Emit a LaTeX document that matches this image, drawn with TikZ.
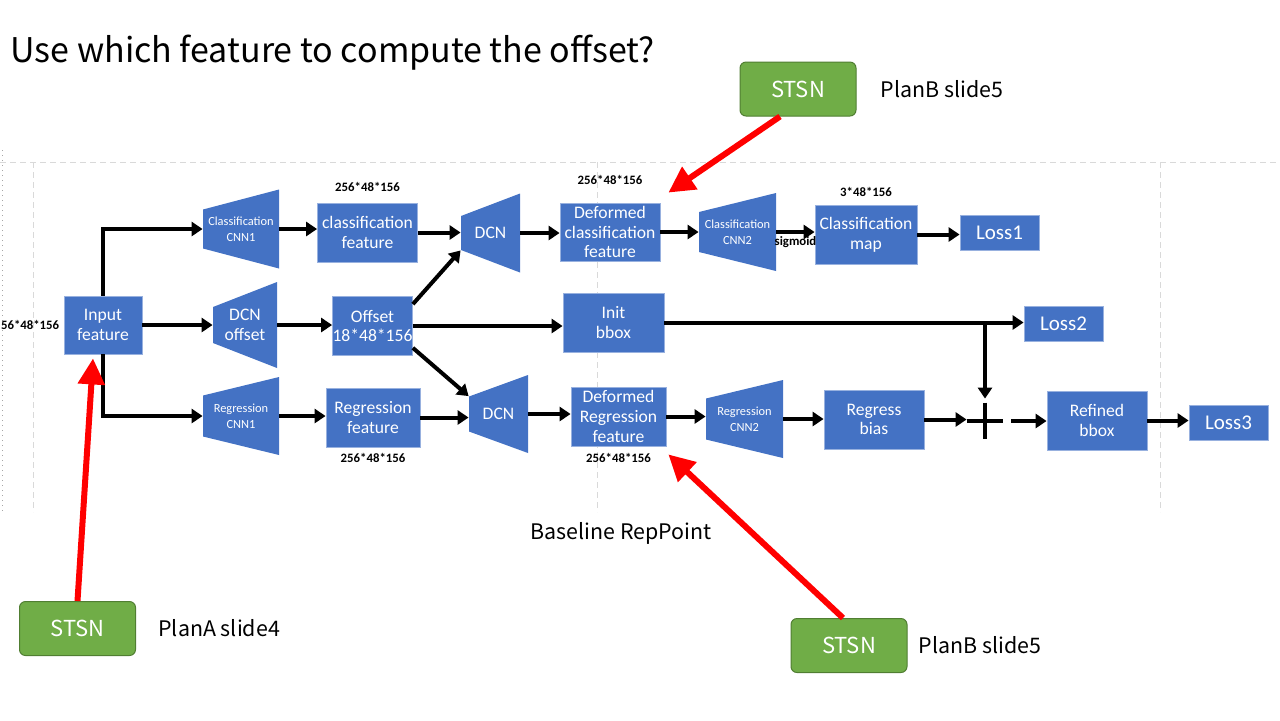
\documentclass[tikz,border=0pt]{standalone}
\usepackage{fontspec}
\setmainfont{Carlito}
\newfontfamily\labelfont{Noto Sans CJK SC}
\usetikzlibrary{arrows.meta,positioning}
\definecolor{boxblue}{HTML}{4472C4}
\definecolor{stsngreen}{HTML}{70AD47}
\definecolor{stsnedge}{HTML}{507E32}
\definecolor{gridgray}{HTML}{D9D9D9}
\tikzset{
  box/.style={fill=boxblue,draw=boxblue!55!white,line width=0.4pt,text=white,align=center,
    font=\fontsize{8.8}{9.8}\selectfont,inner sep=0pt},
  trapbox/.style={text=white,align=center,inner sep=0pt,font=\fontsize{6.2}{8}\selectfont},
  lossbox/.style={box,font=\fontsize{10.5}{12}\selectfont,minimum width=39.5pt,minimum height=17.5pt},
  dims/.style={font=\bfseries\fontsize{6.4}{7.5}\selectfont,inner sep=0pt},
  flow/.style={line width=2pt,-{Triangle[length=5.5pt,width=7pt]}},
  hint/.style={line width=3pt,red,-{Triangle[length=13pt,width=13pt]}},
  stsn/.style={fill=stsngreen,draw=stsnedge,line width=0.5pt,rounded corners=3pt,
    minimum width=58pt,minimum height=27pt,text=white,font=\labelfont\fontsize{11}{13}\selectfont},
  plan/.style={font=\labelfont\fontsize{10.7}{13}\selectfont,inner sep=0pt},
  guide/.style={gridgray,line width=0.5pt,dash pattern=on 3pt off 2pt}
}
% [style]{name}{cx}{cy}{width}{left height}{right height}{text}
\newcommand{\Trap}[8][]{%
  \fill[boxblue] (#3-#5/2,#4-#6/2) -- (#3+#5/2,#4-#7/2) -- (#3+#5/2,#4+#7/2) -- (#3-#5/2,#4+#6/2) -- cycle;
  \node[trapbox,minimum width=#5*0.5pt,minimum height=#6*0.5pt,#1] (#2) at (#3,#4) {#8};}

\begin{document}
\begin{tikzpicture}[x=0.5pt,y=-0.5pt]
    \useasboundingbox (0,0) rectangle (1280,720);
    \draw[guide] (0,162) -- (1280,162);
    \foreach \gx in {33,597,1160} \draw[guide] (\gx,162) -- (\gx,512);
    \draw[gray!70,line width=0.5pt,dotted] (2,150) -- (2,512);

    \node[font=\labelfont\fontsize{17}{20}\selectfont,anchor=base west,inner sep=0pt] (title) at (10,62)
      {Use which feature to compute the offset?};

    \node[box,minimum width=39pt,minimum height=29pt] (input) at (103,325) {Input\\feature};
    \node[dims,left=2pt of input] (inputdims) {56*48*156};

    \Trap{ccnn1}{241}{229}{76}{39}{79}{Classification\\CNN1}
    \Trap[font=\fontsize{8.8}{9.8}\selectfont]{dcnoff}{245}{325}{64}{36}{86}{DCN\\offset}
    \Trap{rcnn1}{241}{416}{76}{41}{78}{Regression\\CNN1}

    \node[box,minimum width=50pt,minimum height=29.5pt] (clsfeat) at (367.5,232.5) {classification\\feature};
    \node[dims,above=5.5pt of clsfeat] (clsdims) {256*48*156};
    \node[box,minimum width=39.5pt,minimum height=29.5pt] (offset) at (372.5,326) {Offset\\18*48*156};
    \node[box,minimum width=47pt,minimum height=29.5pt] (regfeat) at (373,417.5) {Regression\\feature};
    \node[dims,below=3pt of regfeat] (regdims) {256*48*156};

    \Trap[font=\fontsize{8.8}{9.8}\selectfont]{dcntop}{490.5}{233}{59}{34}{79}{DCN}
    \Trap[font=\fontsize{8.8}{9.8}\selectfont]{dcnbot}{498.5}{414}{59}{35}{78}{DCN}

    \node[box,minimum width=50pt,minimum height=29pt] (dclsfeat) at (610,232) {Deformed\\classification\\feature};
    \node[dims,above=9pt of dclsfeat] (dclsdims) {256*48*156};
    \node[box,minimum width=50.5pt,minimum height=29.5pt] (initbbox) at (613.5,322.5) {Init\\bbox};
    \node[box,minimum width=47.5pt,minimum height=29.5pt] (dregfeat) at (618.5,416.5) {Deformed\\Regression\\feature};
    \node[dims,below=3.5pt of dregfeat] (dregdims) {256*48*156};

    \Trap{ccnn2}{737.5}{232}{77}{40}{78}{Classification\\CNN2}
    \Trap{rcnn2}{744.5}{419}{77}{41}{78}{Regression\\CNN2}

    \node[box,minimum width=51pt,minimum height=29.5pt] (clsmap) at (866,234.5) {Classification\\map};
    \node[dims,above=4pt of clsmap] (mapdims) {3*48*156};
    \node[box,minimum width=50pt,minimum height=29.5pt] (regbias) at (874,419.5) {Regress\\bias};
    \node[minimum size=18pt,inner sep=0pt] (plus) at (985,421) {};
    \draw[line width=2pt] (plus.north) -- (plus.south) (plus.west) -- (plus.east);
    \node[box,minimum width=50pt,minimum height=29.5pt] (refbbox) at (1097,420.5) {Refined\\bbox};

    \node[lossbox] (loss1) at (999.5,232.5) {Loss1};
    \node[lossbox] (loss2) at (1063.5,323.5) {Loss2};
    \node[lossbox] (loss3) at (1228.5,422.5) {Loss3};

    \draw[flow] (input.north) |- (ccnn1.west);
    \draw[flow] (input.east) -- (dcnoff.west);
    \draw[flow] (input.south) |- (rcnn1.west);
    \draw[flow] (ccnn1.east) -- (ccnn1.east -| clsfeat.west);
    \draw[flow] (dcnoff.east) -- (dcnoff.east -| offset.west);
    \draw[flow] (rcnn1.east) -- (rcnn1.east -| regfeat.west);
    \draw[flow] (clsfeat.east) -- (clsfeat.east -| dcntop.west);
    \draw[flow] ([yshift=-4pt]offset.north east) -- (dcntop.south west);
    \draw[flow] ([yshift=4pt]offset.south east) -- (dcnbot.north west);
    \draw[flow] (offset.east) -- (offset.east -| initbbox.west);
    \draw[flow] (regfeat.east) -- (regfeat.east -| dcnbot.west);
    \draw[flow] (dcntop.east) -- (dcntop.east -| dclsfeat.west);
    \draw[flow] (dcnbot.east) -- (dcnbot.east -| dregfeat.west);
    \draw[flow] (dclsfeat.east) -- (dclsfeat.east -| ccnn2.west);
    \draw[flow] (ccnn2.east) -- (ccnn2.east -| clsmap.west)
      node[midway,below=1.5pt,dims] {sigmoid};
    \draw[flow] (clsmap.east) -- (clsmap.east -| loss1.west);
    \draw[flow] (initbbox.east) -- (initbbox.east -| loss2.west);
    \coordinate (split) at (plus.north |- initbbox.east);
    \draw[flow] (split) -- ([yshift=2pt]plus.north);
    \draw[flow] (dregfeat.east) -- (dregfeat.east -| rcnn2.west);
    \draw[flow] (rcnn2.east) -- (rcnn2.east -| regbias.west);
    \draw[flow] (regbias.east) -- (regbias.east -| plus.west);
    \draw[flow] ([xshift=4pt]plus.east) -- (plus.east -| refbbox.west);
    \draw[flow] (refbbox.east) -- (refbbox.east -| loss3.west);

    \node[stsn] (stsntop) at (798,89) {STSN};
    \node[plan,right=12pt of stsntop] (plantop) {PlanB slide5};
    \node[stsn] (stsnleft) at (77.5,628.5) {STSN};
    \node[plan,right=11pt of stsnleft] (planleft) {PlanA slide4};
    \node[stsn] (stsnbot) at (849,645.5) {STSN};
    \node[plan,right=5.5pt of stsnbot] (planbot) {PlanB slide5};
    \node[plan] (baseline) at (621,533) {Baseline RepPoint};

    \draw[hint] ([xshift=-9pt]stsntop.south) -- ([shift={(4pt,5pt)}]dclsfeat.north east);
    \draw[hint] ([xshift=-3pt]stsnbot.north) -- ([shift={(1pt,-4pt)}]dregfeat.south east);
    \draw[hint] (stsnleft.north) -- ([shift={(-5pt,-2pt)}]input.south);
\end{tikzpicture}
\end{document}
